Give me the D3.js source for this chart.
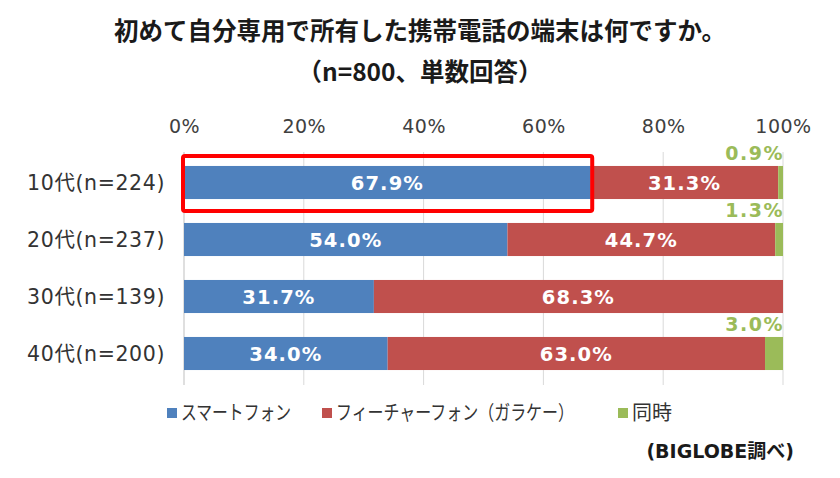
<!DOCTYPE html>
<html><head><meta charset="utf-8">
<script src="https://cdn.jsdelivr.net/npm/d3@7"></script>
<style>
html,body{margin:0;padding:0;background:#fff;}
svg{display:block;}
</style></head>
<body>
<script>
const categories = ["10代(n=224)", "20代(n=237)", "30代(n=139)", "40代(n=200)"];
const seriesNames = ["スマートフォン", "フィーチャーフォン（ガラケー）", "同時"];
const smartphone = [67.9, 54.0, 31.7, 34.0];
const featurephone = [31.3, 44.7, 68.3, 63.0];
const simultaneous = [0.9, 1.3, 0, 3.0];
const tickValues = [0, 20, 40, 60, 80, 100];
const titleLines = ["初めて自分専用で所有した携帯電話の端末は何ですか。", "（n=800、単数回答）"];
const sourceText = "(BIGLOBE調べ)";
const highlightIndex = 0;

const W = 840, H = 478;
const colors = ["#4F81BD", "#C0504D", "#9BBB59"];
const latin = "'DejaVu Sans', 'Noto Sans CJK JP', sans-serif";
const cjk = "'Noto Sans CJK JP', 'DejaVu Sans', sans-serif";

const svg = d3.select("body").append("svg").attr("width", W).attr("height", H);

const x = d3.scaleLinear().domain([0, 100]).range([184, 783]);
const y = d3.scaleBand().domain(categories).range([154, 382]).paddingInner(0.42).paddingOuter(0.21);

// title
svg.selectAll("text.title").data(titleLines).join("text")
  .attr("class", "title")
  .attr("x", 420).attr("y", (d, i) => 40 + i * 41)
  .attr("text-anchor", "middle")
  .style("font-family", cjk).style("font-weight", 700).style("font-size", "24.5px")
  .attr("fill", "#1a1a1a").text(d => d);

// gridlines
svg.append("g").selectAll("line").data(tickValues).join("line")
  .attr("x1", d => x(d)).attr("x2", d => x(d))
  .attr("y1", 152).attr("y2", 385)
  .attr("stroke", d => d === 0 ? "#bfbfbf" : "#d9d9d9").attr("stroke-width", 1);

// top axis labels
const axis = d3.axisTop(x).tickValues(tickValues).tickSize(0).tickFormat(d => d + "%");
const ag = svg.append("g").attr("transform", "translate(0,126)").call(axis);
ag.select(".domain").remove();
ag.selectAll("text").attr("dy", "0.35em").attr("y", 0)
  .style("font-family", latin).style("font-size", "19px").style("letter-spacing", "0.5px")
  .attr("fill", "#404040");

// category labels
const yAxis = d3.axisLeft(y).tickSize(0).tickPadding(0);
const yg = svg.append("g").attr("transform", "translate(165,0)").call(yAxis);
yg.select(".domain").remove();
yg.selectAll("text").attr("dy", "0.35em")
  .style("font-family", latin).style("font-size", "20.5px").style("letter-spacing", "0.6px")
  .attr("fill", "#333");

// stacked data
const rows = categories.map((c, i) => ({ cat: c, v: [smartphone[i], featurephone[i], simultaneous[i]] }));
const stackData = rows.map(r => {
  let acc = 0;
  return r.v.map((v, s) => { const o = { cat: r.cat, s, v, x0: acc, x1: acc + v }; acc += v; return o; });
});
const segs = stackData.flat();

svg.append("g").selectAll("rect").data(segs.filter(d => d.v > 0)).join("rect")
  .attr("x", d => x(d.x0)).attr("width", d => x(Math.min(d.x1, 100)) - x(d.x0))
  .attr("y", d => y(d.cat)).attr("height", y.bandwidth())
  .attr("fill", d => colors[d.s]);

// inside labels
svg.append("g").selectAll("text").data(segs.filter(d => d.s < 2)).join("text")
  .attr("x", d => x((d.x0 + d.x1) / 2)).attr("y", d => y(d.cat) + y.bandwidth() / 2)
  .attr("dy", "0.36em").attr("text-anchor", "middle")
  .style("font-family", latin).style("font-weight", 700).style("font-size", "19.5px").style("letter-spacing", "1.1px")
  .attr("fill", "#fff").text(d => d.v.toFixed(1) + "%");

// green labels above
svg.append("g").selectAll("text").data(segs.filter(d => d.s === 2 && d.v > 0)).join("text")
  .attr("x", x(100) + 1).attr("y", d => y(d.cat) - 6)
  .attr("text-anchor", "end")
  .style("font-family", latin).style("font-weight", 700).style("font-size", "19px").style("letter-spacing", "1.5px")
  .attr("fill", colors[2]).text(d => d.v.toFixed(1) + "%");

// highlight box
const hb = stackData[highlightIndex][0];
svg.append("rect")
  .attr("x", x(0) - 1).attr("y", y(hb.cat) - 10)
  .attr("width", x(hb.x1) - x(0) + 2.5).attr("height", y.bandwidth() + 22)
  .attr("rx", 2).attr("fill", "none").attr("stroke", "#FF0000").attr("stroke-width", 4);

// legend
const legendX = [167, 322, 618];
const legendW = [110, 238, null];
const lg = svg.append("g").selectAll("g").data(seriesNames).join("g")
  .attr("transform", (d, i) => `translate(${legendX[i]},413)`);
lg.append("rect").attr("x", 0).attr("y", -5).attr("width", 10).attr("height", 10).attr("fill", (d, i) => colors[i]);
lg.append("text").attr("x", 14).attr("dy", "0.36em")
  .style("font-family", cjk).style("font-size", "20px").attr("fill", "#333")
  .each(function (d, i) {
    const t = d3.select(this).text(d);
    if (legendW[i]) t.attr("textLength", legendW[i]).attr("lengthAdjust", "spacingAndGlyphs");
  });

// source
svg.append("text").attr("x", 794).attr("y", 451).attr("dy", "0.36em").attr("text-anchor", "end")
  .style("font-family", latin).style("font-weight", 700).style("font-size", "19px")
  .attr("fill", "#1a1a1a").text(sourceText);
</script>
</body></html>
